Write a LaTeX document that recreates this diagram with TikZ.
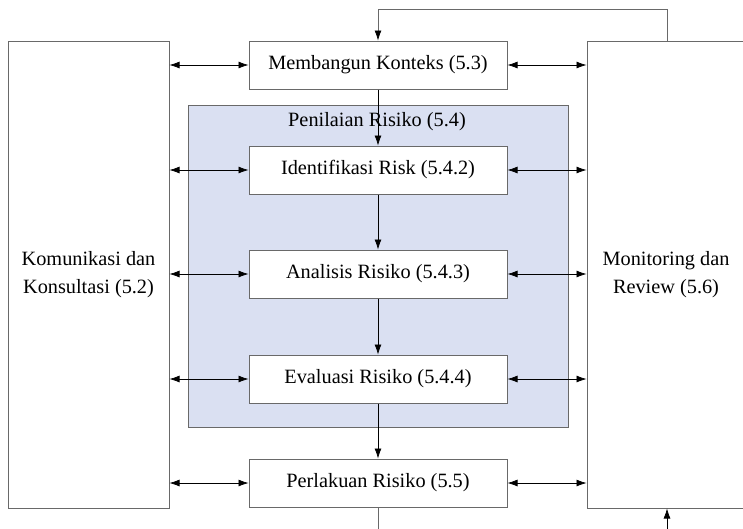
\documentclass[tikz,border=0pt]{standalone}
\usepackage{fontspec}
\setmainfont{Liberation Serif}
\newfontfamily\hurufdiagram{Liberation Serif}
\usetikzlibrary{arrows.meta}
\definecolor{bingkai}{RGB}{105,105,105}
\definecolor{birumuda}{RGB}{218,224,242}
\begin{document}
\begin{tikzpicture}[x=1pt, y=-1pt,
        kotak/.style={draw=bingkai, line width=1pt, fill=white, inner sep=0pt, minimum width=258pt, minimum height=48pt, font=\hurufdiagram\fontsize{20.3}{26}\selectfont},
        sisi/.style={draw=bingkai, line width=1pt, fill=white, inner sep=0pt, align=center, font=\hurufdiagram\fontsize{20.3}{28}\selectfont},
        panah/.style={-{Latex[length=10pt, width=7pt, color=black]}, line width=0.7pt},
        duapanah/.style={{Latex[length=10pt, width=7pt]}-{Latex[length=10pt, width=7pt]}, line width=0.7pt}]
    \useasboundingbox (0, 0) rectangle (743, 528);

    % penilaian risiko
    \path[fill=birumuda, draw=bingkai, line width=1pt] (188, 105) rectangle (568, 427);
    \node[font=\hurufdiagram\fontsize{20.3}{26}\selectfont] (judul) at (377, 122) {Penilaian Risiko (5.4)};

    \node[sisi, minimum width=161pt, minimum height=467pt] (komunikasi) at (88.5, 274.5) {Komunikasi dan\\Konsultasi (5.2)};
    \node[sisi, minimum width=158pt, minimum height=467pt] (monitoring) at (666, 274.5) {Monitoring dan\\Review (5.6)};

    \node[kotak] (konteks) at (378, 65) {Membangun Konteks (5.3)};
    \node[kotak] (identifikasi) at (378, 170) {Identifikasi Risk (5.4.2)};
    \node[kotak] (analisis) at (378, 274) {Analisis Risiko (5.4.3)};
    \node[kotak] (evaluasi) at (378, 379) {Evaluasi Risiko (5.4.4)};
    \node[kotak] (perlakuan) at (378, 483) {Perlakuan Risiko (5.5)};

    \coordinate (atas) at (667, 9);
    \coordinate (bawah) at (378, 530);
    \coordinate (masuk) at (667, 530);

    % alur utama
    \draw[panah] (konteks) -- (identifikasi);
    \draw[panah] (identifikasi) -- (analisis);
    \draw[panah] (analisis) -- (evaluasi);
    \draw[panah] (evaluasi) -- (perlakuan);
    \draw[line width=0.7pt, draw=bingkai] (perlakuan) -- (bawah);
    \draw[panah] (masuk) -- (monitoring.south -| masuk);
    \draw[panah, draw=bingkai] (monitoring.north -| atas) -- (atas) -| (konteks.north);

    % komunikasi dan monitoring
    \foreach \langkah in {konteks, identifikasi, analisis, evaluasi, perlakuan} {
        \draw[duapanah] (komunikasi.east |- \langkah) -- (\langkah.west);
        \draw[duapanah] (\langkah.east) -- (monitoring.west |- \langkah);
    }
\end{tikzpicture}
\end{document}
